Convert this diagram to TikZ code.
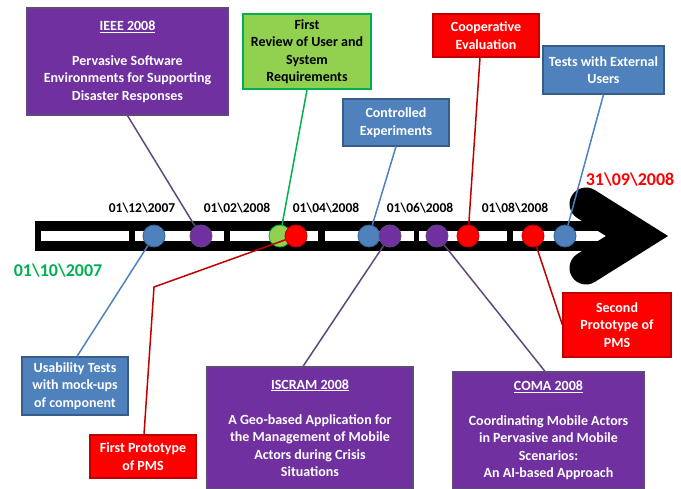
\documentclass[tikz,border=0pt]{standalone}
\usepackage{fontspec}
\setmainfont{Carlito}
\definecolor{pblue}{HTML}{4F81BD}
\definecolor{pblueedge}{HTML}{385D8A}
\definecolor{ppurple}{HTML}{7030A0}
\definecolor{ppurpleedge}{HTML}{5F497A}
\definecolor{pgreen}{HTML}{92D050}
\definecolor{pgreenedge}{HTML}{00B050}
\definecolor{pred}{HTML}{FF0000}
\definecolor{prededge}{HTML}{C00000}
\newcommand{\bs}{\textbackslash}
\tikzset{
  box/.style={draw, line width=1.2pt, align=center, inner sep=0pt,
    font=\bfseries\fontsize{14}{17.5}\selectfont, text=white},
  bluebox/.style={box, fill=pblue, draw=pblueedge},
  purplebox/.style={box, fill=ppurple, draw=ppurpleedge},
  redbox/.style={box, fill=pred, draw=prededge},
  greenbox/.style={box, fill=pgreen, draw=pgreenedge, line width=1.8pt, text=black},
  dot/.style={circle, minimum size=22pt, inner sep=0pt, line width=0.8pt},
  bluedot/.style={dot, fill=pblue, draw=pblueedge},
  purpledot/.style={dot, fill=ppurple, draw=ppurpleedge},
  reddot/.style={dot, fill=pred, draw=prededge},
  greendot/.style={dot, fill=pgreen, draw=pgreenedge},
  link/.style={line width=1.5pt},
  datelabel/.style={font=\bfseries\fontsize{13.5}{16}\selectfont, inner sep=0pt},
  endlabel/.style={font=\bfseries\fontsize{18}{21}\selectfont, inner sep=0pt},
}
\begin{document}
\begin{tikzpicture}[x=1pt, y=-1pt]
\useasboundingbox (0,0) rectangle (681,489);

% timeline bar with its month separators
\fill[black] (35,221) rectangle (640,251);
\foreach \a/\b in {41/129, 135/224, 230/318, 325/414, 419/507, 513/615}
  \fill[white] (\a,231) rectangle (\b,241);
% arrowhead
\draw[line width=33pt, line cap=round, line join=miter] (586,204) -- (637,236) -- (586,268);

% dates
\node[datelabel] (d1) at (142,208) {01\bs 12\bs 2007};
\node[datelabel] (d2) at (237,208) {01\bs 02\bs 2008};
\node[datelabel] (d3) at (326,208) {01\bs 04\bs 2008};
\node[datelabel] (d4) at (420,208) {01\bs 06\bs 2008};
\node[datelabel] (d5) at (515,208) {01\bs 08\bs 2008};
\node[endlabel, text=pgreenedge] (start) at (58,271) {01\bs 10\bs 2007};
\node[endlabel, text=pred] (finish) at (630,180) {31\bs 09\bs 2008};

% event boxes
\node[purplebox, minimum width=201pt, minimum height=107pt] (ieee) at (127.5,61.5)
  {\underline{IEEE 2008}\\[17.5pt] Pervasive Software\\ Environments for Supporting\\ Disaster Responses};
\node[greenbox, minimum width=128pt, minimum height=75pt] (review) at (307,51.5)
  {First\\ Review of User and\\ System\\ Requirements};
\node[bluebox, minimum width=106pt, minimum height=47pt] (ctrl) at (396,122.5)
  {Controlled\\ Experiments};
\node[redbox, minimum width=106pt, minimum height=43pt] (coop) at (486,35.5)
  {Cooperative\\ Evaluation};
\node[bluebox, minimum width=121pt, minimum height=48pt] (tests) at (603.5,70)
  {Tests with External\\ Users};
\node[bluebox, minimum width=106pt, minimum height=58pt] (usab) at (75,386)
  {Usability Tests\\ with mock-ups\\ of component};
\node[redbox, minimum width=106pt, minimum height=43pt] (proto1) at (143,456.5)
  {First Prototype\\ of PMS};
\node[purplebox, minimum width=206pt, minimum height=122pt] (iscram) at (310,428)
  {\underline{ISCRAM 2008}\\[17.5pt] A Geo-based Application for\\ the Management of Mobile\\ Actors during Crisis\\ Situations};
\node[purplebox, minimum width=191pt, minimum height=117pt] (coma) at (548.5,430.5)
  {\underline{COMA 2008}\\[17.5pt] Coordinating Mobile Actors\\ in Pervasive and Mobile\\ Scenarios:\\ An AI-based Approach};
\node[redbox, minimum width=108pt, minimum height=64pt] (proto2) at (617,325)
  {Second\\ Prototype of\\ PMS};

% milestones on the bar
\node[bluedot] (m1) at (154,236) {};
\node[purpledot] (m2) at (201,236) {};
\node[greendot] (m3) at (280,236) {};
\node[reddot] (m4) at (296,236) {};
\node[bluedot] (m5) at (369,236) {};
\node[purpledot] (m6) at (390,236) {};
\node[purpledot] (m7) at (437,236) {};
\node[reddot] (m8) at (468,236) {};
\node[reddot] (m9) at (533,236) {};
\node[bluedot] (m10) at (565,236) {};

% connectors
\coordinate (bend) at (154,287);
\draw[link, draw=ppurpleedge] (ieee.south) -- (m2);
\draw[link, draw=pgreenedge] (review.south) -- (m3);
\draw[link, draw=pblue] (ctrl.south) -- (m5);
\draw[link, draw=prededge] ([xshift=-6pt]coop.south) -- (m8);
\draw[link, draw=pblue] (tests.south) -- (m10);
\draw[link, draw=pblue] ([xshift=2pt]usab.north) -- (m1);
\draw[link, draw=prededge] ([xshift=1pt]proto1.north) -- (bend) -- (m4);
\draw[link, draw=ppurpleedge] ([xshift=-7pt]iscram.north) -- (m6);
\draw[link, draw=ppurpleedge] ([xshift=-3.5pt]coma.north) -- (m7);
\draw[link, draw=prededge] (m9) -- (proto2.west);
\end{tikzpicture}
\end{document}
